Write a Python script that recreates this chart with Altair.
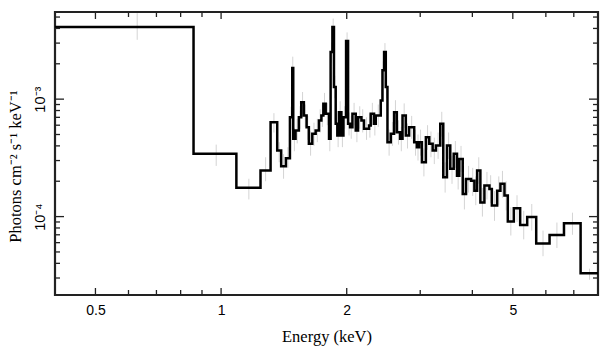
import altair as alt
import pandas as pd

# Bin edges (keV) of the folded model histogram
edges = [0.400, 0.859, 1.088, 1.243, 1.314, 1.363, 1.393, 1.430, 1.462, 1.481,
         1.489, 1.508, 1.536, 1.556, 1.579, 1.603, 1.623, 1.654, 1.685, 1.716,
         1.739, 1.758, 1.781, 1.814, 1.830, 1.848, 1.864, 1.882, 1.899, 1.916,
         1.942, 1.964, 1.993, 2.015, 2.037, 2.064, 2.102, 2.129, 2.169, 2.200,
         2.262, 2.283, 2.325, 2.347, 2.413, 2.436, 2.458, 2.481, 2.504, 2.550,
         2.597, 2.637, 2.685, 2.721, 2.771, 2.822, 2.902, 2.945, 2.983, 3.028,
         3.095, 3.153, 3.213, 3.272, 3.351, 3.407, 3.477, 3.541, 3.609, 3.675,
         3.722, 3.793, 3.863, 3.971, 4.045, 4.106, 4.181, 4.275, 4.395, 4.454,
         4.586, 4.670, 4.775, 4.864, 5.028, 5.207, 5.413, 5.689, 6.124, 6.631,
         7.268, 8.000]

# Model value per bin (photons cm^-2 s^-1 keV^-1)
model = [4.11e-3, 3.42e-4, 1.76e-4, 2.47e-4, 6.36e-4, 3.65e-4, 2.68e-4, 3.14e-4, 7.02e-4, 1.84e-3,
         4.59e-4, 5.41e-4, 7.02e-4, 9.43e-4, 7.26e-4, 5.77e-4, 4.17e-4, 5.07e-4, 5.41e-4, 6.58e-4,
         7.26e-4, 9.14e-4, 7.50e-4, 4.59e-4, 2.52e-3, 4.11e-3, 1.27e-3, 6.17e-4, 4.90e-4, 7.75e-4,
         4.90e-4, 7.02e-4, 3.12e-3, 6.17e-4, 5.77e-4, 7.50e-4, 5.41e-4, 7.02e-4, 6.58e-4, 5.59e-4,
         5.96e-4, 7.50e-4, 6.17e-4, 7.26e-4, 9.75e-4, 1.76e-3, 2.52e-3, 1.27e-3, 4.30e-4, 5.07e-4,
         7.75e-4, 5.23e-4, 4.59e-4, 7.26e-4, 4.90e-4, 5.77e-4, 4.30e-4, 3.90e-4, 4.30e-4, 2.90e-4,
         4.74e-4, 4.17e-4, 3.65e-4, 4.03e-4, 6.17e-4, 2.16e-4, 4.03e-4, 2.55e-4, 3.42e-4, 2.23e-4,
         3.10e-4, 1.56e-4, 2.09e-4, 2.02e-4, 1.66e-4, 2.47e-4, 1.32e-4, 1.84e-4, 1.72e-4, 1.24e-4,
         1.66e-4, 1.90e-4, 1.51e-4, 9.10e-5, 1.18e-4, 8.50e-5, 9.90e-5, 5.90e-5, 6.96e-5, 8.77e-5,
         3.30e-5]

# Data error bars (lower / upper) per bin
err_lo = [3.2e-3, 2.7e-4, 1.4e-4, 2.0e-4, 5.2e-4, 2.9e-4, 2.1e-4, 2.6e-4, 5.5e-4, 1.4e-3,
          3.6e-4, 4.2e-4, 5.6e-4, 7.5e-4, 5.8e-4, 4.5e-4, 3.3e-4, 4.0e-4, 4.3e-4, 5.2e-4,
          5.8e-4, 7.2e-4, 6.0e-4, 3.6e-4, 2.05e-3, 3.45e-3, 1.02e-3, 4.9e-4, 3.9e-4, 6.2e-4,
          3.9e-4, 5.6e-4, 2.6e-3, 4.9e-4, 4.6e-4, 6.0e-4, 4.3e-4, 5.6e-4, 5.2e-4, 4.5e-4,
          4.7e-4, 6.0e-4, 4.9e-4, 5.8e-4, 7.8e-4, 1.45e-3, 2.1e-3, 1.02e-3, 3.3e-4, 4.0e-4,
          6.1e-4, 4.1e-4, 3.6e-4, 5.7e-4, 3.8e-4, 4.6e-4, 3.3e-4, 3.0e-4, 3.3e-4, 2.2e-4,
          3.7e-4, 3.2e-4, 2.8e-4, 3.1e-4, 4.8e-4, 1.6e-4, 3.1e-4, 1.9e-4, 2.6e-4, 1.7e-4,
          2.4e-4, 1.15e-4, 1.6e-4, 1.5e-4, 1.25e-4, 1.9e-4, 1.0e-4, 1.4e-4, 1.3e-4, 9.2e-5,
          1.25e-4, 1.45e-4, 1.13e-4, 6.9e-5, 9.0e-5, 6.4e-5, 7.6e-5, 4.6e-5, 5.4e-5, 7.0e-5,
          2.9e-5]
err_hi = [5.4e-3, 4.1e-4, 2.1e-4, 3.2e-4, 7.6e-4, 4.3e-4, 3.4e-4, 3.9e-4, 8.6e-4, 2.3e-3,
          5.7e-4, 6.8e-4, 8.7e-4, 1.15e-3, 9.0e-4, 7.2e-4, 5.3e-4, 6.3e-4, 6.8e-4, 8.2e-4,
          9.0e-4, 1.13e-3, 9.3e-4, 5.8e-4, 3.05e-3, 4.85e-3, 1.58e-3, 7.7e-4, 6.2e-4, 9.6e-4,
          6.2e-4, 8.7e-4, 3.7e-3, 7.7e-4, 7.2e-4, 9.3e-4, 6.8e-4, 8.7e-4, 8.2e-4, 7.0e-4,
          7.5e-4, 9.3e-4, 7.7e-4, 9.0e-4, 1.21e-3, 2.1e-3, 3.0e-3, 1.58e-3, 5.5e-4, 6.4e-4,
          9.8e-4, 6.6e-4, 5.8e-4, 9.2e-4, 6.2e-4, 7.2e-4, 5.5e-4, 5.0e-4, 5.5e-4, 3.8e-4,
          6.0e-4, 5.3e-4, 4.7e-4, 5.2e-4, 7.8e-4, 2.9e-4, 5.2e-4, 3.3e-4, 4.4e-4, 2.9e-4,
          4.0e-4, 2.1e-4, 2.7e-4, 2.6e-4, 2.2e-4, 3.2e-4, 1.75e-4, 2.4e-4, 2.25e-4, 1.65e-4,
          2.2e-4, 2.45e-4, 2.0e-4, 1.2e-4, 1.52e-4, 1.12e-4, 1.28e-4, 7.6e-5, 8.9e-5, 1.08e-4,
          3.6e-5]

x_major = [0.5, 1, 2, 5]
x_minor = [0.6, 0.7, 0.8, 0.9, 3, 4, 6, 7]
y_major = [1e-4, 1e-3]
y_minor = [3e-5, 4e-5, 5e-5, 6e-5, 7e-5, 8e-5, 9e-5,
           2e-4, 3e-4, 4e-4, 5e-4, 6e-4, 7e-4, 8e-4, 9e-4,
           2e-3, 3e-3, 4e-3, 5e-3]

X_DOMAIN = [0.4, 8.0]
Y_DOMAIN = [2.15e-5, 5.52e-3]
W, H = 543, 283

step_df = pd.DataFrame({
    "E": edges[:-1] + [edges[-1]],
    "F": model + [model[-1]],
})
err_df = pd.DataFrame({
    "E": [(edges[i] + edges[i + 1]) / 2 for i in range(len(model))],
    "lo": err_lo,
    "hi": err_hi,
})

xs = alt.Scale(type="log", domain=X_DOMAIN, nice=False, zero=False)
ys = alt.Scale(type="log", domain=Y_DOMAIN, nice=False, zero=False)

sans = "Liberation Sans"
serif = "Liberation Serif"

x_axis = alt.Axis(values=x_major, format="~g", ticks=False, tickSize=0, domain=False, grid=False,
                  labelFont=sans, labelFontSize=14, labelColor="black", labelPadding=8,
                  title="Energy (keV)", titleFont=serif, titleFontSize=16.5,
                  titleFontWeight="normal", titleColor="black", titlePadding=11)
y_axis = alt.Axis(values=y_major, ticks=False, tickSize=0, domain=False, grid=False,
                  labelExpr="datum.value < 0.0005 ? '10⁻⁴' : '10⁻³'",
                  labelAngle=-90, labelAlign="center", labelBaseline="bottom",
                  labelFont=sans, labelFontSize=14.5, labelColor="black", labelPadding=8,
                  title="Photons cm⁻² s⁻¹ keV⁻¹", titleFont=serif, titleFontSize=16.5,
                  titleFontWeight="normal", titleColor="black",
                  titleX=-40, titleY=154, titleBaseline="middle", titleAlign="center", titleAngle=-90)

errbars = alt.Chart(err_df).mark_rule(color="#d4d4d4", strokeWidth=1, clip=True).encode(
    x=alt.X("E:Q", scale=xs, axis=x_axis),
    y=alt.Y("lo:Q", scale=ys, axis=y_axis),
    y2="hi:Q",
)

line = alt.Chart(step_df).mark_line(interpolate="step-after", color="#000000",
                                     strokeWidth=2.5, clip=True).encode(
    x=alt.X("E:Q", scale=xs),
    y=alt.Y("F:Q", scale=ys),
)

tick_color = "#222222"
xmaj_df = pd.DataFrame({"t": x_major})
xmin_df = pd.DataFrame({"t": x_minor})
ymaj_df = pd.DataFrame({"t": y_major})
ymin_df = pd.DataFrame({"t": y_minor})


def xticks(df, length):
    bottom = alt.Chart(df).mark_rule(color=tick_color, strokeWidth=1.3).encode(
        x=alt.X("t:Q", scale=xs), y=alt.value(H), y2=alt.value(H - length))
    top = alt.Chart(df).mark_rule(color=tick_color, strokeWidth=1.3).encode(
        x=alt.X("t:Q", scale=xs), y=alt.value(0), y2=alt.value(length))
    return [bottom, top]


def yticks(df, length):
    left = alt.Chart(df).mark_rule(color=tick_color, strokeWidth=1.3).encode(
        y=alt.Y("t:Q", scale=ys), x=alt.value(0), x2=alt.value(length))
    right = alt.Chart(df).mark_rule(color=tick_color, strokeWidth=1.3).encode(
        y=alt.Y("t:Q", scale=ys), x=alt.value(W), x2=alt.value(W - length))
    return [left, right]


layers = [errbars, line] + xticks(xmaj_df, 7) + xticks(xmin_df, 5) + yticks(ymaj_df, 9) + yticks(ymin_df, 5)

chart = alt.layer(*layers).properties(
    width=W, height=H,
    autosize="none",
    padding={"left": 55, "top": 12, "right": 11, "bottom": 62},
    background="white",
).configure_view(stroke="#222222", strokeWidth=2.2)

chart.save("out.html", embed_options={"renderer": "svg", "actions": False})
